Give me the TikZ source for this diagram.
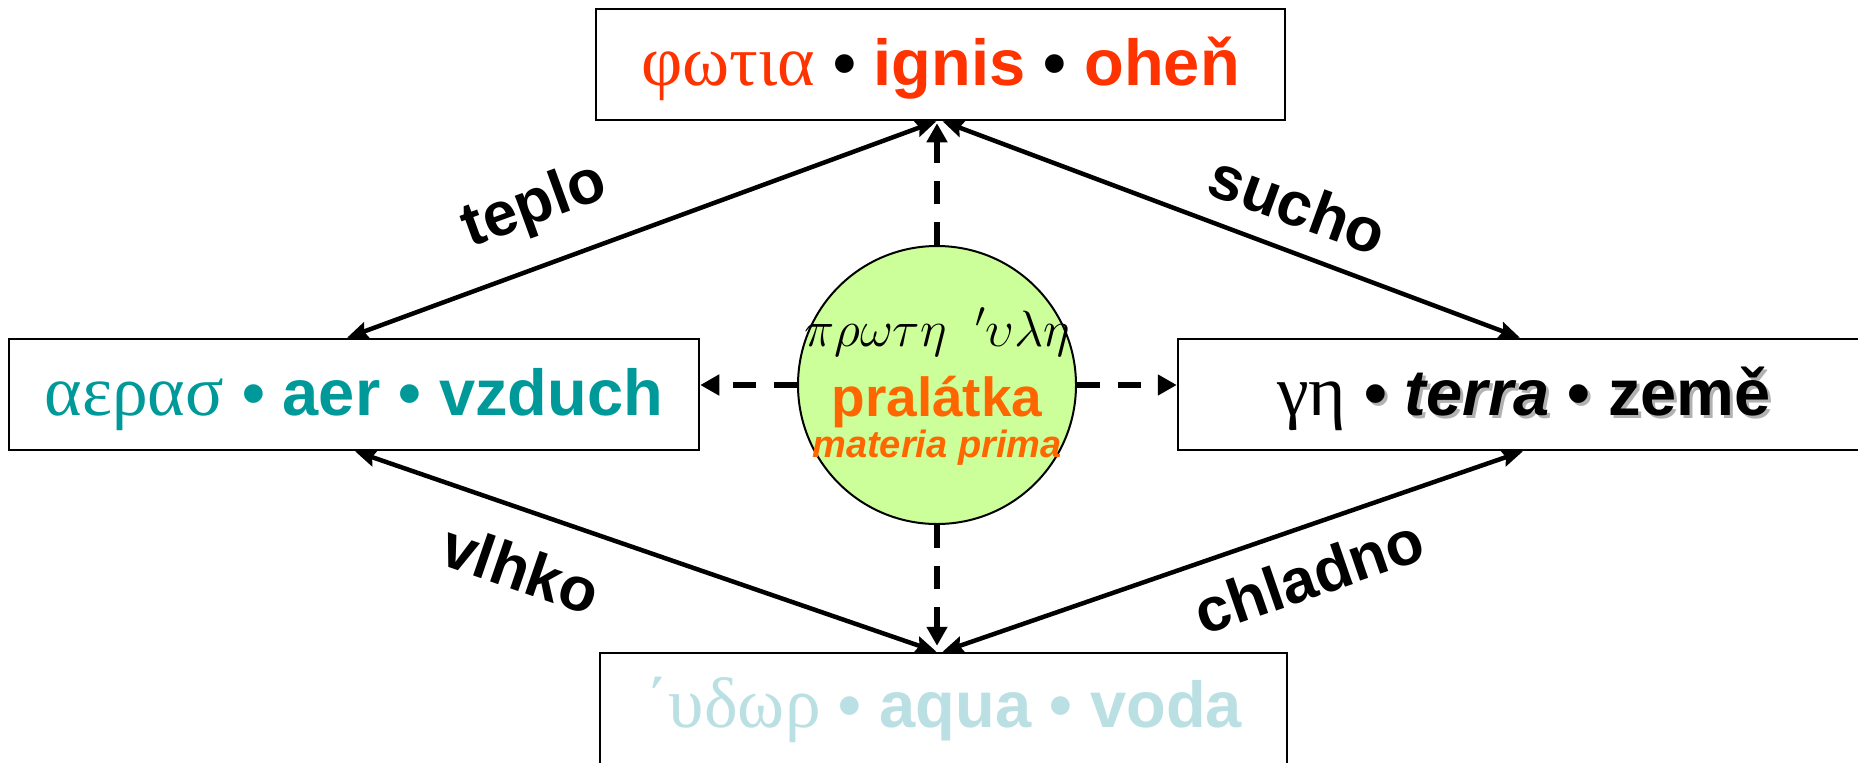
\RequirePackage{fix-cm}
\documentclass[tikz,border=0pt]{standalone}
\usepackage{fontspec}
\setmainfont{Liberation Sans}
\newfontfamily\grk[Scale=1.1]{Liberation Serif}
\usetikzlibrary{arrows.meta}
\definecolor{fire}{HTML}{FF3300}
\definecolor{air}{HTML}{009999}
\definecolor{water}{HTML}{BBE0E3}
\definecolor{prim}{HTML}{FF6600}
\definecolor{circfill}{HTML}{CCFF99}
\newcommand\shd[1]{\makebox[0pt][l]{\kern3pt\raisebox{-3pt}{\color{black!30}#1}}{#1}}
\begin{document}
\begin{tikzpicture}[x=1pt,y=-1pt,
  box/.style={draw, line width=2.5pt, fill=white, inner sep=0pt, minimum height=111pt,
    text height=45pt, text depth=4pt, font=\fontsize{65}{70}\selectfont\bfseries},
  lab/.style={font=\fontsize{62}{66}\selectfont\bfseries, inner sep=0pt},
  dbl/.style={line width=4.5pt, {Stealth[length=21pt,width=17pt,inset=3pt]}-{Stealth[length=21pt,width=17pt,inset=3pt]}},
  dsh/.style={line width=5.5pt, dash pattern=on 23pt off 18pt, -{Triangle[length=19pt,width=20pt]}}]
\useasboundingbox (0,0) rectangle (1858,763);
\clip (0,0) rectangle (1858,763);
% boxes
\node[box, minimum width=689pt] (fireb) at (940.5,64.5)
  {\color{fire}{\mdseries\grk φωτια} {\color{black}•} ignis {\color{black}•} oheň};
\node[box, minimum width=690pt] (airb) at (354,394.5)
  {\color{air}{\mdseries\grk αερασ} • aer • vzduch};
\node[box, minimum width=692pt] (earthb) at (1524,394.5)
  {{\mdseries\grk γη} \shd{•} \shd{\textit{terra}} \shd{•} \shd{země}};
\node[box, minimum width=687pt, text height=42pt] (waterb) at (943.5,708.5)
  {\color{water}{\mdseries\grk ΄υδωρ} • aqua • voda};
% circle
\node[circle, draw, line width=2pt, fill=circfill, minimum size=278pt, inner sep=0pt] (prime) at (937,385) {};
\node[anchor=base, inner sep=0pt, font=\fontsize{51}{54}\selectfont] (primegr) at (937,346)
  {$\pi\rho\omega\tau\eta\ \ {}^{\prime}\upsilon\lambda\eta$};
\node[anchor=base, inner sep=0pt, font=\fontsize{55}{60}\selectfont\bfseries, text=prim] (primecz) at (937,416) {pralátka};
\node[anchor=base, inner sep=0pt, font=\fontsize{38}{40}\selectfont\bfseries\itshape, text=prim] (primela) at (937,457) {materia prima};
% solid double arrows
\draw[dbl] ([xshift=-7pt]airb.north) -- ([xshift=-4pt]fireb.south);
\draw[dbl] ([xshift=2pt]fireb.south) -- ([xshift=-4pt]earthb.north);
\draw[dbl] ([xshift=1pt]airb.south) -- ([xshift=-7pt]waterb.north);
\draw[dbl] ([xshift=-1pt]earthb.south) -- ([xshift=-1pt]waterb.north);
% dashed arrows
\draw[dsh, shorten >=2pt] (prime.north) -- (prime.north |- fireb.south);
\draw[dsh, shorten >=6pt] (prime.south) -- (prime.south |- waterb.north);
\draw[dsh] (prime.west) -- (prime.west -| airb.east);
\draw[dsh] (prime.east) -- (prime.east -| earthb.west);
% labels
\node[lab, rotate=20] (teplo) at (535,207) {teplo};
\node[lab, rotate=-20] (sucho) at (1298,204) {sucho};
\node[lab, rotate=-19] (vlhko) at (521,569) {vlhko};
\node[lab, rotate=19] (chladno) at (1309,576) {chladno};
\end{tikzpicture}
\end{document}
